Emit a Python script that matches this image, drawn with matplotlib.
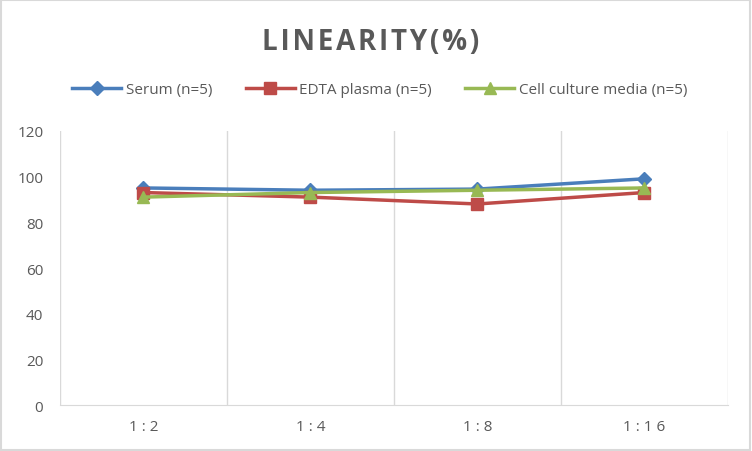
import matplotlib.pyplot as plt
from matplotlib.patches import Rectangle

plt.rcParams['font.family'] = ['Open Sans', 'DejaVu Sans']

categories = ['1:2', '1:4', '1:8', '1:16']
tick_labels = ['1 : 2', '1 : 4', '1 : 8', '1 : 1 6']
serum = [95, 94, 94.5, 99]
edta = [93, 91, 88, 93]
cell_media = [91, 93, 94, 95]
title = 'LINEARITY(%)'

series = [
    ('Serum (n=5)', serum, '#4a7ebb', 'D', 7),
    ('EDTA plasma (n=5)', edta, '#be4b48', 's', 9),
    ('Cell culture media (n=5)', cell_media, '#98b954', '^', 9),
]

fig = plt.figure(figsize=(7.52, 4.52), dpi=100)
fig.patches.append(Rectangle((0.001, 0.002), 0.997, 0.995, transform=fig.transFigure,
                             fill=False, edgecolor='#d9d9d9', linewidth=1.5))
ax = fig.add_axes([0.0798, 0.1007, 0.888, 0.6079])

x = range(len(categories))
for label, vals, color, marker, ms in series:
    ax.plot(x, vals, color=color, linewidth=2.5, marker=marker, markersize=ms,
            label=label)

ax.set_xlim(-0.5, len(categories) - 0.5)
ax.set_ylim(0, 120)
ax.set_yticks(range(0, 121, 20))
ax.set_xticks(list(x))
ax.set_xticklabels(tick_labels)
for b in [-0.5, 0.5, 1.5, 2.5, 3.5]:
    ax.axvline(b, color='#d9d9d9', linewidth=1, zorder=0)
for s in ['top', 'left', 'right']:
    ax.spines[s].set_visible(False)
ax.spines['bottom'].set_color('#d9d9d9')
ax.tick_params(length=0, labelsize=11, colors='#595959', pad=10)
ax.tick_params(axis='y', pad=12)

# spaced-out title, like the Excel chart
fig.text(0.493, 0.907, '\u200a'.join(title), ha='center', va='center', fontsize=20,
         fontweight='bold', color='#595959')
fig.legend(loc='center', bbox_to_anchor=(0.505, 0.8), ncol=3, frameon=False,
           fontsize=11, labelcolor='#595959', handlelength=3.2, columnspacing=2.2,
           handletextpad=0.3)

fig.savefig('out.png', dpi=100)
